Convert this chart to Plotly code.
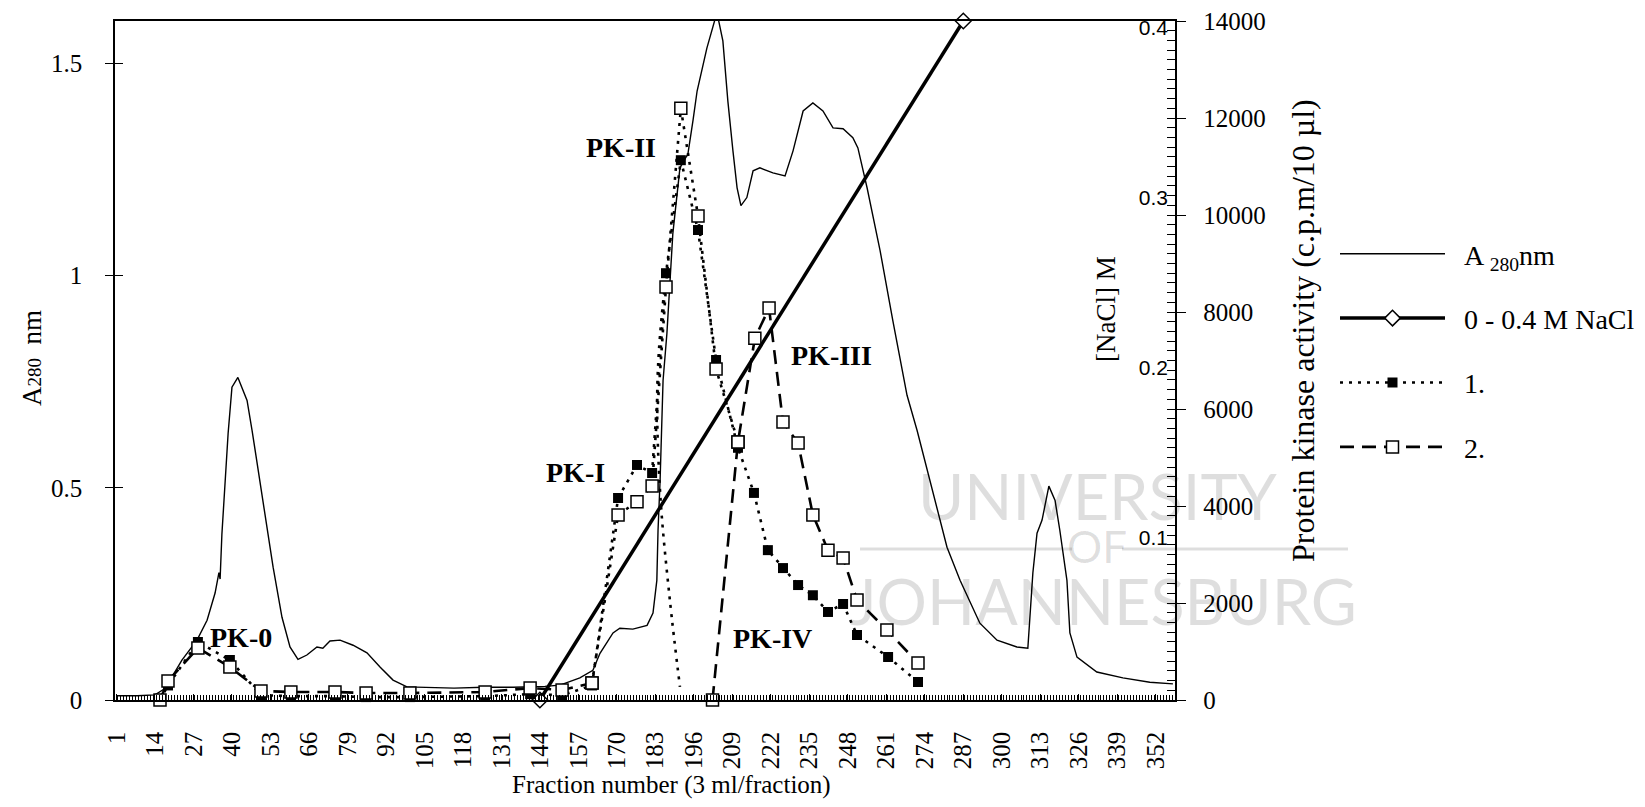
import plotly.graph_objects as go

# ---------------- data ----------------
a280_fraction = [1, 8, 14, 16.7, 19.1, 23.1, 28.2, 31.6, 34.3, 35.6, 36.0, 36.6, 38.7, 40.0, 42.0,
                 45.1, 46.8, 50.5, 53.9, 56.9, 59.6, 62.3, 65.3, 68.7, 70.7, 73.1, 76.5, 80.9,
                 85.6, 90.0, 94.4, 99.1, 103.5, 115, 125, 135, 145.7, 150.8, 157.5, 161.9, 164.3,
                 168.7, 171.0, 175.4, 180.2, 182.2, 183.5, 183.9, 184.6, 185.6, 186.9, 188.9,
                 191.3, 194.0, 195.7, 197.1, 200.4, 203.8, 205.8, 207.5, 209.2, 210.6, 211.9,
                 213.9, 216.0, 218.3, 222.7, 226.8, 229.5, 232.9, 236.2, 239.6, 243.0, 246.4,
                 249.7, 251.4, 254.5, 258.9, 263.2, 268.0, 271.4, 275.7, 281.5, 285.9, 292.6,
                 298.4, 305.1, 308.8, 310.5, 311.9, 313.6, 315.9, 318.0, 319.6, 322.0, 323.0,
                 325.4, 332.1, 340.9, 350.0, 357.8]
a280_value = [0.01, 0.01, 0.012, 0.024, 0.047, 0.094, 0.141, 0.188, 0.252, 0.30, 0.285, 0.39, 0.628,
              0.737, 0.76, 0.706, 0.635, 0.47, 0.313, 0.195, 0.125, 0.096, 0.106, 0.125, 0.122,
              0.139, 0.141, 0.129, 0.111, 0.078, 0.047, 0.031, 0.03, 0.028, 0.03, 0.03, 0.032,
              0.035, 0.052, 0.07, 0.11, 0.158, 0.169, 0.167, 0.176, 0.205, 0.282, 0.40, 0.518,
              0.753, 0.864, 1.099, 1.254, 1.287, 1.365, 1.435, 1.536, 1.62, 1.553, 1.41, 1.294,
              1.207, 1.165, 1.184, 1.247, 1.254, 1.242, 1.235, 1.294, 1.388, 1.407, 1.388, 1.348,
              1.346, 1.325, 1.301, 1.207, 1.059, 0.894, 0.718, 0.635, 0.518, 0.36, 0.282, 0.181,
              0.141, 0.125, 0.122, 0.30, 0.393, 0.424, 0.504, 0.47, 0.40, 0.282, 0.158, 0.101,
              0.066, 0.052, 0.042, 0.038]

nacl_fraction = [144, 287]
nacl_molar = [0, 0.4]

# Protein kinase activity, assay 1 (filled squares, dotted)
pk1_fraction = [15.7, 18.4, 28.5, 39.3, 49.8, 59.9, 74.8, 85.3, 100.1, 125.5, 140.7, 151.5, 161.6,
                170.4, 176.8, 181.9, 186.6, 191.6, 197.4, 203.5, 210.9, 216.3, 221.0, 226.1,
                231.2, 236.2, 241.3, 246.4, 251.1, 261.6, 271.7]
pk1_cpm = [0, 300, 1196, 825, 100, 80, 80, 60, 60, 80, 120, 100, 300,
           4165, 4846, 4680, 8800, 11130, 9690, 7010, 5200, 4270, 3090, 2720,
           2370, 2160, 1815, 1980, 1340, 887, 371]
# trailing dotted branch falling from the PK-II peak to the baseline
pk1_tail_fraction = [186.6, 184.2, 183.6, 184.8, 187.9, 191.3]
pk1_tail_cpm = [8800, 7200, 6000, 4100, 2060, 270]

# Protein kinase activity, assay 2 (open squares, dashed) - PK-0 / baseline and PK-III / PK-IV
pk2_fraction = [15.7, 18.4, 28.5, 39.3, 49.8, 59.9, 74.8, 85.3, 100.1, 125.5, 140.7, 151.5, 161.6,
                None,
                202.3, 210.9, 216.6, 221.4, 226.1, 231.2, 236.2, 241.3, 246.4, 251.1, 261.2, 271.7]
pk2_cpm = [0, 392, 1072, 680, 186, 165, 165, 144, 144, 165, 247, 206, 350,
           None,
           0, 5320, 7460, 8080, 5730, 5300, 3815, 3090, 2930, 2060, 1443, 763]
# assay 2, PK-I / PK-II peak (drawn dotted)
pk2b_fraction = [161.6, 170.4, 176.8, 181.9, 186.6, 191.6, 197.4, 203.5, 210.9]
pk2b_cpm = [350, 3815, 4090, 4413, 8516, 12200, 9980, 6825, 5320]

x_tick_values = list(range(1, 353, 13))
y_left_ticks = [0, 0.5, 1, 1.5]
y_left_text = ["0", "0.5", "1", "1.5"]
nacl_ticks = [0.1, 0.2, 0.3, 0.4]
pk_ticks = [0, 2000, 4000, 6000, 8000, 10000, 12000, 14000]

peak_labels = ["PK-0", "PK-I", "PK-II", "PK-III", "PK-IV"]
peak_label_x = [43.1, 155.9, 171.4, 242.6, 222.7]
peak_label_y = [0.148, 0.536, 1.301, 0.812, 0.144]

SERIF = "Liberation Serif"
W, H = 1645, 807
L, R, T, B = 115, 1175, 21, 700   # plot-area edges in pixels
NB = "\u00a0"


def px(xp):
    return (xp - L) / (R - L)


def py(yp):
    return (B - yp) / (B - T)


fig = go.Figure()

fig.add_trace(go.Scatter(x=a280_fraction, y=a280_value, mode="lines",
                         line=dict(color="black", width=1.4), name=NB * 2 + "A <sub>280</sub>nm",
                         legendgroup="a", yaxis="y"))
fig.add_trace(go.Scatter(x=nacl_fraction, y=nacl_molar, mode="lines+markers",
                         line=dict(color="black", width=3.5),
                         marker=dict(symbol="diamond", size=12, color="white",
                                     line=dict(color="black", width=1.5)),
                         name=NB * 2 + "0 - 0.4 M NaCl", legendgroup="b", yaxis="y2",
                         cliponaxis=False))
dot = dict(color="black", width=2.6, dash="3px,6px")
fig.add_trace(go.Scatter(x=pk1_tail_fraction, y=pk1_tail_cpm, mode="lines", line_shape="spline",
                         line=dot, showlegend=False, yaxis="y3", hoverinfo="skip"))
fig.add_trace(go.Scatter(x=pk1_fraction, y=pk1_cpm, mode="lines+markers", line=dot,
                         marker=dict(symbol="square", size=10, color="black"),
                         name=NB * 2 + "1.", legendgroup="c", yaxis="y3", cliponaxis=False))
fig.add_trace(go.Scatter(x=pk2b_fraction, y=pk2b_cpm, mode="lines+markers", line=dot,
                         marker=dict(symbol="square", size=12, color="white",
                                     line=dict(color="black", width=1.5)),
                         showlegend=False, yaxis="y3", cliponaxis=False))
fig.add_trace(go.Scatter(x=pk2_fraction, y=pk2_cpm, mode="lines+markers", connectgaps=False,
                         line=dict(color="black", width=2.6, dash="14px,8px"),
                         marker=dict(symbol="square", size=12, color="white",
                                     line=dict(color="black", width=1.5)),
                         name=NB * 2 + "2.", legendgroup="d", yaxis="y3", cliponaxis=False))
# helper traces so the tick-only overlay axes are created
for ax in ["y4", "y5"]:
    fig.add_trace(go.Scatter(x=[None], y=[None], yaxis=ax, showlegend=False, hoverinfo="skip"))

tickfont = dict(family=SERIF, size=25, color="black")

fig.update_layout(
    width=W, height=H,
    margin=dict(l=L, r=W - R, t=T, b=H - B, autoexpand=False),
    paper_bgcolor="white", plot_bgcolor="white",
    showlegend=True,
    legend=dict(x=px(1335), y=py(229), xanchor="left", yanchor="top",
                font=dict(family=SERIF, size=28, color="black"),
                tracegroupgap=25, itemwidth=105, bgcolor="rgba(0,0,0,0)"),
    xaxis=dict(range=[0.5, 358.5], tickmode="array", tickvals=x_tick_values,
               ticktext=[str(v) for v in x_tick_values], tickangle=-90,
               ticks="inside", ticklen=6, tickwidth=1, tickcolor="black",
               minor=dict(tickmode="linear", tick0=0.5, dtick=1, ticks="inside",
                          ticklen=5, tickwidth=1, tickcolor="black"),
               showline=True, linecolor="black", linewidth=1.5, mirror=True,
               showgrid=False, zeroline=False, tickfont=tickfont, ticklabelstandoff=20,
               ticklabeloverflow="allow"),
    yaxis=dict(range=[0, 1.6], tickmode="array", tickvals=y_left_ticks, ticktext=y_left_text,
               ticks="outside", ticklen=8, tickwidth=1.2, tickcolor="black",
               showline=True, linecolor="black", linewidth=1.5, showgrid=False,
               zeroline=False, tickfont=tickfont, ticklabelstandoff=18),
    yaxis4=dict(range=[0, 1.6], overlaying="y", side="left", anchor="x", tickmode="array",
                tickvals=y_left_ticks, ticks="inside", ticklen=8, tickwidth=1.2,
                tickcolor="black", showticklabels=False, showline=False, showgrid=False,
                zeroline=False),
    yaxis2=dict(range=[0, 0.4], overlaying="y", side="right", anchor="x", tickmode="array",
                tickvals=nacl_ticks, ticktext=[str(v) for v in nacl_ticks], ticks="",
                ticklabelposition="inside", ticklabelstandoff=4, ticklabelshift=7,
                ticklabeloverflow="allow",
                showline=False, showgrid=False, zeroline=False,
                tickfont=dict(family="Liberation Sans", size=21, color="black")),
    yaxis3=dict(range=[0, 14000], overlaying="y", side="right", anchor="x", tickmode="array",
                tickvals=pk_ticks, ticktext=[NB * 2 + str(v) for v in pk_ticks],
                ticks="outside", ticklen=9, tickwidth=1.2, tickcolor="black",
                showline=True, linecolor="black", linewidth=1.5, showgrid=False,
                zeroline=False, tickfont=tickfont, ticklabeloverflow="allow"),
    yaxis5=dict(range=[0, 14000], overlaying="y", side="right", anchor="x", tickmode="linear",
                tick0=0, dtick=200, ticks="inside", ticklen=8, tickwidth=1,
                tickcolor="black", showticklabels=False, showline=False, showgrid=False,
                zeroline=False),
)


def note(xp, yp, text, font, angle=0):
    return dict(x=px(xp), y=py(yp), xref="paper", yref="paper", showarrow=False,
                xanchor="center", yanchor="middle", textangle=angle, text=text, font=font)


annotations = []
for t, xv, yv in zip(peak_labels, peak_label_x, peak_label_y):
    annotations.append(dict(x=xv, y=yv, xref="x", yref="y", text="<b>%s</b>" % t,
                            xanchor="center", yanchor="middle",
                            showarrow=False, font=dict(family=SERIF, size=28, color="black")))

annotations += [
    note(671, 785, "Fraction number (3 ml/fraction)", dict(family=SERIF, size=25, color="black")),
    note(32, 358, "A<span style='font-size:19px'>280</span>  nm",
         dict(family=SERIF, size=27, color="black"), -90),
    note(1106, 309, "[NaCl] M", dict(family=SERIF, size=27, color="black"), -90),
    note(1303, 331, "Protein kinase activity (c.p.m/10 µl)",
         dict(family=SERIF, size=32, color="black"), -90),
]
wm = "rgba(0,0,0,0.13)"
wm_font = "Lato"
annotations += [
    note(1098, 496, "UNIVERSITY", dict(family=wm_font, size=63, color=wm)),
    note(1097, 546, "OF", dict(family=wm_font, size=44, color=wm)),
    note(1103, 600, "JOHANNESBURG", dict(family=wm_font, size=63, color=wm)),
]
fig.update_layout(annotations=annotations)

fig.add_shape(type="line", xref="paper", yref="paper", x0=px(860), x1=px(1072),
              y0=py(549), y1=py(549), line=dict(color=wm, width=3))
fig.add_shape(type="line", xref="paper", yref="paper", x0=px(1122), x1=px(1348),
              y0=py(549), y1=py(549), line=dict(color=wm, width=3))

fig.write_html("out.html")
